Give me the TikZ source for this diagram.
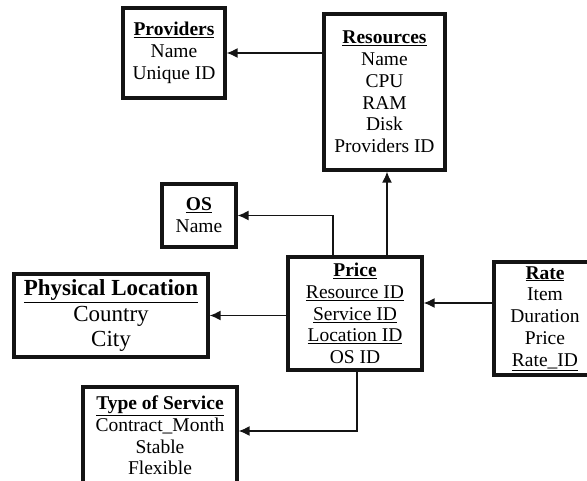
\documentclass[tikz,border=0pt]{standalone}
\usepackage{fontspec}
\setmainfont{Liberation Serif}
\usetikzlibrary{arrows.meta}
\definecolor{inkblack}{RGB}{20, 20, 20}

\begin{document}
\begin{tikzpicture}[x=1pt, y=1pt,
    entity/.style={draw=inkblack, line width=3.2pt, fill=white, align=center, inner sep=0pt,
                   font=\fontsize{19.5}{21.8}\selectfont},
    link/.style={draw=inkblack, line width=1.6pt, -{Latex[length=11pt, width=10pt]}}]
    % Frame
    \useasboundingbox (0, 0) rectangle (587, -480);
    \clip (0, 0) rectangle (587, -480);
    % Entities
    \node[entity, minimum width=102, minimum height=90]  (providers) at (174.0,  -53.0)
        {\textbf{\underline{Providers}}\\Name\\Unique ID};
    \node[entity, minimum width=121, minimum height=156] (resources) at (384.5,  -92.0)
        {\textbf{\underline{Resources}}\\Name\\CPU\\RAM\\Disk\\Providers ID};
    \node[entity, minimum width=74,  minimum height=63]  (os)        at (199.0, -215.5)
        {\textbf{\underline{OS}}\\Name};
    \node[entity, minimum width=194, minimum height=83,
          font=\fontsize{23}{25.5}\selectfont]            (location)  at (111.0, -315.5)
        {\textbf{\underline{Physical Location}}\\Country\\City};
    \node[entity, minimum width=134, minimum height=113] (price)     at (355.0, -313.5)
        {\textbf{\underline{Price}}\\\underline{Resource ID}\\\underline{Service ID}\\\underline{Location ID}\\OS ID};
    \node[entity, minimum width=102, minimum height=113] (rate)      at (545.0, -318.5)
        {\textbf{\underline{Rate}}\\Item\\Duration\\Price\\\underline{Rate\_ID}};
    \node[entity, minimum width=154, minimum height=97]  (service)   at (160.0, -435.5)
        {\textbf{\underline{Type of Service}}\\Contract\_Month\\Stable\\Flexible};
    % Links
    \draw[link] (resources.west |- providers.east) -- (providers.east);
    \draw[link] (price.north -| 387, 0) -- (resources.south -| 387, 0);
    \draw[link] ([xshift=-22pt]price.north) |- (os.east);
    \draw[link] (price.west |- location.east) -- (location.east);
    \draw[link] ([yshift=15.5pt]rate.west) -- ([yshift=15.5pt]rate.west -| price.east);
    \draw[link] ([xshift=2pt]price.south) |- ([yshift=4.5pt]service.east);
\end{tikzpicture}
\end{document}
